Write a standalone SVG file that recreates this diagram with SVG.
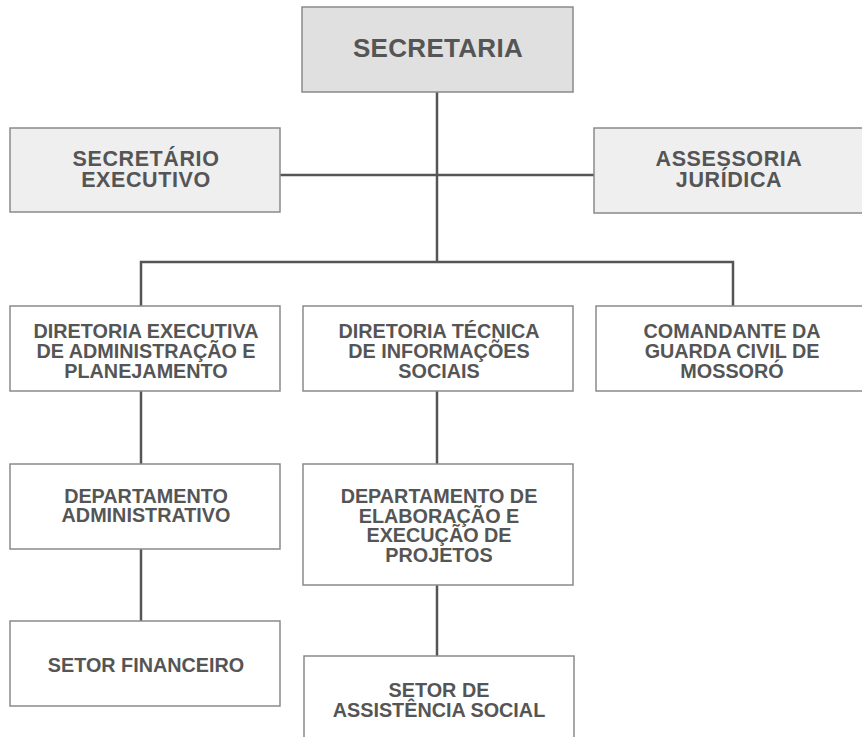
<svg xmlns="http://www.w3.org/2000/svg" width="862" height="737" viewBox="0 0 862 737">
<style>
.box{stroke:#8a8a8a;stroke-width:1.5}
.top{fill:#e0e0e0}
.sec{fill:#efefef}
.plain{fill:#ffffff}
.t{font-family:"Liberation Sans",Arial,sans-serif;font-weight:bold;font-size:19.8px;fill:#555555;text-anchor:middle}
.mid{font-size:21.5px;letter-spacing:0.6px}
.big{font-size:26px;letter-spacing:0.3px}
.c{stroke:#555555;stroke-width:2.5;fill:none}
</style>
<rect width="862" height="737" fill="#ffffff"/>
<g id="connectors">
<line class="c" x1="437" y1="92" x2="437" y2="262"/>
<line class="c" x1="280" y1="175" x2="594" y2="175"/>
<polyline class="c" points="141,306 141,262 733,262 733,306"/>
<line class="c" x1="141" y1="391" x2="141" y2="464"/>
<line class="c" x1="141" y1="549" x2="141" y2="621"/>
<line class="c" x1="437" y1="391" x2="437" y2="464"/>
<line class="c" x1="437" y1="585" x2="437" y2="656"/>
</g>
<g id="secretaria">
<rect class="box top" x="302" y="7" width="271" height="85"/>
<text class="t big" x="438" y="57">SECRETARIA</text>
</g>
<g id="secretario-executivo">
<rect class="box sec" x="10" y="128" width="270" height="84"/>
<text class="t mid" x="146" y="166">SECRETÁRIO</text>
<text class="t mid" x="146" y="187">EXECUTIVO</text>
</g>
<g id="assessoria-juridica">
<rect class="box sec" x="594" y="128" width="280" height="85"/>
<text class="t mid" x="729" y="166">ASSESSORIA</text>
<text class="t mid" x="729" y="187">JURÍDICA</text>
</g>
<g id="diretoria-executiva">
<rect class="box plain" x="10" y="306" width="270" height="85"/>
<text class="t" x="146" y="338">DIRETORIA EXECUTIVA</text>
<text class="t" x="146" y="358">DE ADMINISTRAÇÃO E</text>
<text class="t" x="146" y="378">PLANEJAMENTO</text>
</g>
<g id="diretoria-tecnica">
<rect class="box plain" x="303" y="306" width="270" height="85"/>
<text class="t" x="439" y="338">DIRETORIA TÉCNICA</text>
<text class="t" x="439" y="358">DE INFORMAÇÕES</text>
<text class="t" x="439" y="378">SOCIAIS</text>
</g>
<g id="comandante">
<rect class="box plain" x="596" y="306" width="280" height="85"/>
<text class="t" x="732" y="338">COMANDANTE DA</text>
<text class="t" x="732" y="358">GUARDA CIVIL DE</text>
<text class="t" x="732" y="378">MOSSORÓ</text>
</g>
<g id="departamento-administrativo">
<rect class="box plain" x="10" y="464" width="270" height="85"/>
<text class="t" x="146" y="503">DEPARTAMENTO</text>
<text class="t" x="146" y="522">ADMINISTRATIVO</text>
</g>
<g id="departamento-elaboracao">
<rect class="box plain" x="303" y="464" width="270" height="121"/>
<text class="t" x="439" y="503">DEPARTAMENTO DE</text>
<text class="t" x="439" y="523">ELABORAÇÃO E</text>
<text class="t" x="439" y="542">EXECUÇÃO DE</text>
<text class="t" x="439" y="562">PROJETOS</text>
</g>
<g id="setor-financeiro">
<rect class="box plain" x="10" y="621" width="270" height="85"/>
<text class="t" x="146" y="672">SETOR FINANCEIRO</text>
</g>
<g id="setor-assistencia">
<rect class="box plain" x="304" y="656" width="270" height="100"/>
<text class="t" x="439" y="697">SETOR DE</text>
<text class="t" x="439" y="717">ASSISTÊNCIA SOCIAL</text>
</g>
</svg>
